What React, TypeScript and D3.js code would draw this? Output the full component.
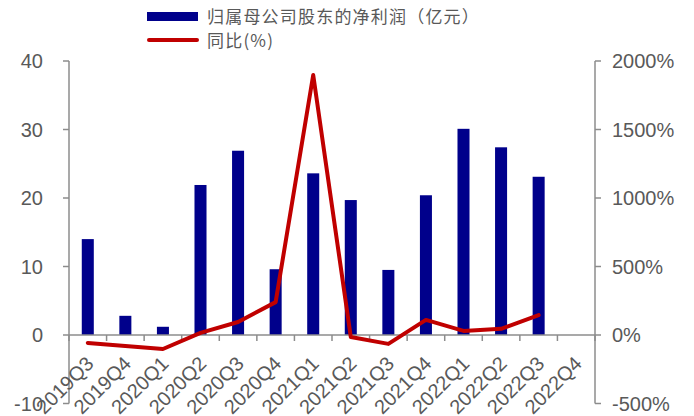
import React from "react";
import * as d3 from "d3";

const categories = ["2019Q3","2019Q4","2020Q1","2020Q2","2020Q3","2020Q4","2021Q1","2021Q2","2021Q3","2021Q4","2022Q1","2022Q2","2022Q3","2022Q4"];
const profit: (number | null)[] = [14.0, 2.8, 1.2, 21.9, 26.9, 9.6, 23.6, 19.7, 9.5, 20.4, 30.1, 27.4, 23.1, null];
const yoy: (number | null)[] = [-58, -80, -102, 15, 95, 240, 1898, -15, -65, 110, 30, 45, 145, null];
const leftTicks = [-10, 0, 10, 20, 30, 40];
const rightTicks = [-500, 0, 500, 1000, 1500, 2000];
const seriesNames = ["归属母公司股东的净利润（亿元）", "同比(%)"];

const W = 694, H = 416;
const left = 69, right = 595, top = 61, bottom = 403.5;
const axisColor = "#8c8c8c";
const textColor = "#595959";
const barColor = "#00008B";
const lineColor = "#C00000";

export default function App() {
  const x = d3.scaleBand<string>().domain(categories).range([left, right]).paddingInner(0.68).paddingOuter(0.34);
  const yL = d3.scaleLinear().domain([-10, 40]).range([bottom, top]);
  const yR = d3.scaleLinear().domain([-500, 2000]).range([bottom, top]);
  const step = x.step();
  const cx = (c: string) => (x(c) as number) + x.bandwidth() / 2;

  const lineData = categories.map((c, i) => ({ c, v: yoy[i] })).filter(d => d.v !== null) as { c: string; v: number }[];
  const lineGen = d3.line<{ c: string; v: number }>().x(d => cx(d.c)).y(d => yR(d.v));

  const y0 = yL(0);
  const boundaries = d3.range(categories.length + 1).map(i => left + i * step);

  return (
    <svg width={W} height={H} style={{ position: "absolute", left: 0, top: 0, background: "#fff" }}
      fontFamily="'Liberation Sans', Arial, sans-serif">
      {/* bars */}
      {categories.map((c, i) => profit[i] === null ? null : (
        <rect key={c} x={x(c)} y={yL(profit[i] as number)} width={x.bandwidth()}
          height={y0 - yL(profit[i] as number)} fill={barColor} />
      ))}
      {/* left axis */}
      <line x1={left} x2={left} y1={top} y2={bottom} stroke={axisColor} strokeWidth={1.5} />
      {leftTicks.map(t => (
        <g key={t}>
          <line x1={left - 6} x2={left} y1={yL(t)} y2={yL(t)} stroke={axisColor} strokeWidth={1.5} />
          <text x={43} y={yL(t)} dy="0.36em" textAnchor="end" fontSize={20} fill={textColor}>{t}</text>
        </g>
      ))}
      {/* right axis */}
      <line x1={right} x2={right} y1={top} y2={bottom} stroke={axisColor} strokeWidth={1.5} />
      {rightTicks.map(t => (
        <g key={t}>
          <line x1={right} x2={right + 6} y1={yR(t)} y2={yR(t)} stroke={axisColor} strokeWidth={1.5} />
          <text x={612} y={yR(t)} dy="0.36em" textAnchor="start" fontSize={20} fill={textColor}>{t + "%"}</text>
        </g>
      ))}
      {/* x axis */}
      <line x1={left} x2={right} y1={y0} y2={y0} stroke={axisColor} strokeWidth={1.5} />
      {boundaries.map((b, i) => (
        <line key={i} x1={b} x2={b} y1={y0} y2={y0 + 6} stroke={axisColor} strokeWidth={1.5} />
      ))}
      {/* line */}
      <path d={lineGen(lineData) || ""} fill="none" stroke={lineColor} strokeWidth={4} strokeLinejoin="round" strokeLinecap="round" />
      {/* x labels */}
      {categories.map(c => (
        <text key={c} transform={`translate(${cx(c) + 7},${365}) rotate(-45)`} textAnchor="end"
          fontSize={20} fill={textColor}>{c}</text>
      ))}
      {/* legend */}
      <rect x={147} y={12} width={51} height={9} fill={barColor} />
      <text x={207} y={17} dy="0.36em" fontSize={17} letterSpacing={1.2} fill={textColor}
        fontFamily="'Noto Sans CJK SC', sans-serif">{seriesNames[0]}</text>
      <line x1={149} x2={197} y1={40} y2={40} stroke={lineColor} strokeWidth={4} strokeLinecap="round" />
      <text x={207} y={41} dy="0.36em" fontSize={17} letterSpacing={1.2} fill={textColor}
        fontFamily="'Noto Sans CJK SC', sans-serif">{seriesNames[1]}</text>
    </svg>
  );
}
